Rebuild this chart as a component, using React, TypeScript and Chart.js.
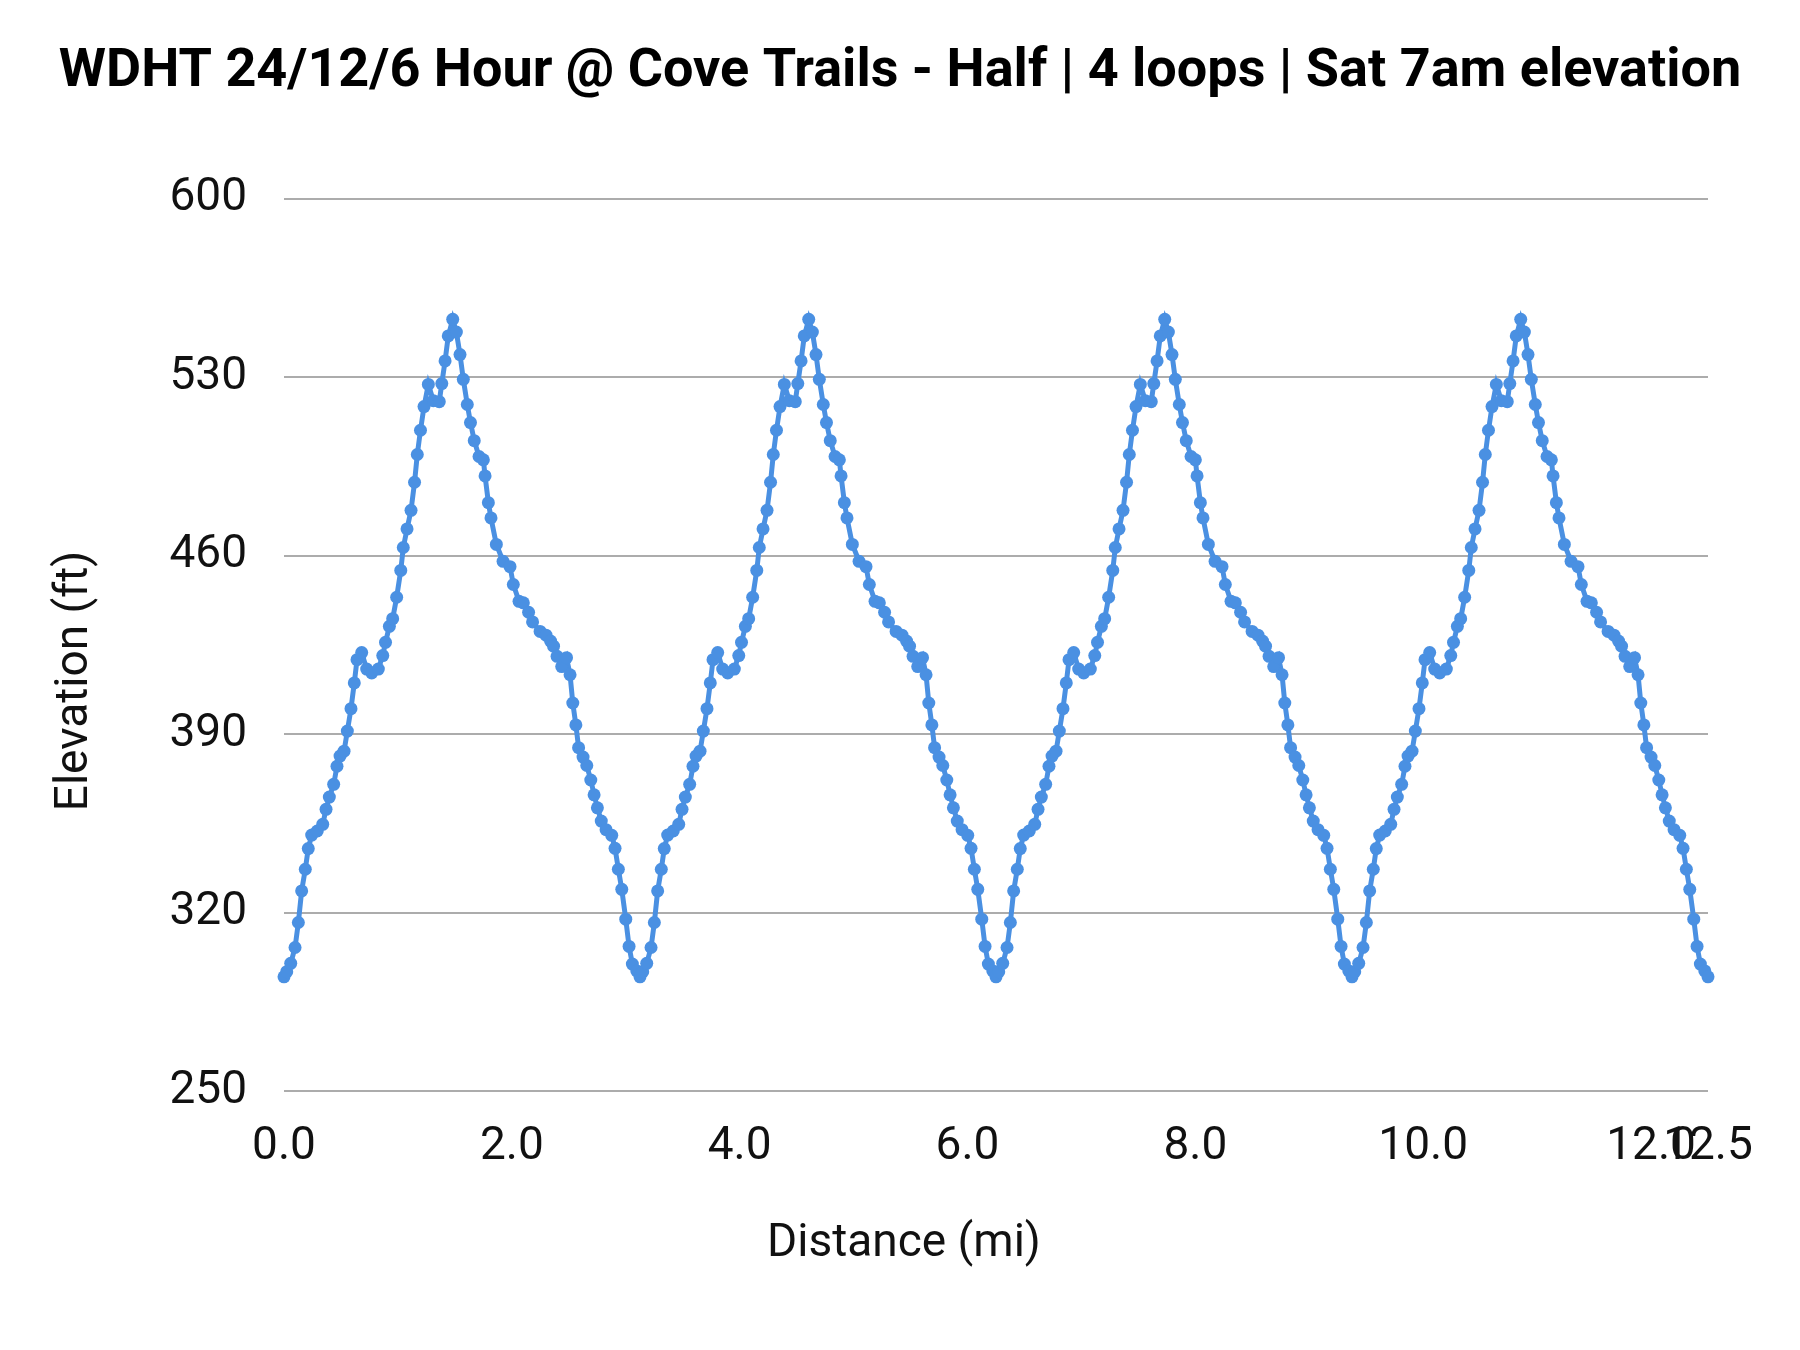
import { useEffect, useRef } from 'react';
import { Chart, registerables, Plugin } from 'chart.js';

Chart.register(...registerables);

// One loop of the course (mi from loop start, ft). The race repeats it 4 times.
const loopDistance = [
  0.0, 0.024, 0.059, 0.097, 0.126, 0.155, 0.187, 0.213, 0.243, 0.292,
  0.34, 0.369, 0.398, 0.436, 0.465, 0.492, 0.527, 0.556, 0.588, 0.617,
  0.641, 0.682, 0.726, 0.77, 0.828, 0.867, 0.891, 0.925, 0.954, 0.989,
  1.025, 1.047, 1.08, 1.115, 1.146, 1.17, 1.198, 1.229, 1.267, 1.311,
  1.363, 1.385, 1.414, 1.442, 1.481, 1.513, 1.545, 1.574, 1.609, 1.637,
  1.67, 1.712, 1.75, 1.765, 1.794, 1.817, 1.864, 1.923, 1.984, 2.013,
  2.063, 2.101, 2.147, 2.182, 2.248, 2.3, 2.34, 2.366, 2.397, 2.438,
  2.48, 2.511, 2.535, 2.562, 2.586, 2.625, 2.658, 2.693, 2.722, 2.751,
  2.785, 2.827, 2.877, 2.906, 2.935, 2.965, 3.0, 3.029, 3.058, 3.097,
];

const loopElevation = [
  294.8, 296.8, 300.1, 306.3, 316.1, 328.5, 337.0, 345.1, 350.4, 352.0,
  354.6, 360.5, 365.3, 370.3, 377.4, 381.4, 383.3, 391.2, 400.0, 410.1,
  419.2, 422.0, 415.5, 414.0, 415.5, 420.8, 426.0, 432.3, 435.3, 443.7,
  454.2, 463.2, 470.5, 477.8, 488.8, 499.7, 509.2, 518.5, 527.2, 520.8,
  520.4, 527.5, 536.4, 546.2, 552.7, 547.7, 538.9, 529.2, 519.3, 512.2,
  505.1, 498.9, 497.6, 491.3, 480.8, 474.8, 464.4, 457.8, 455.7, 448.7,
  442.1, 441.5, 437.8, 434.0, 430.3, 428.8, 426.5, 424.5, 420.5, 416.5,
  420.0, 413.3, 402.2, 393.6, 384.7, 381.0, 377.7, 372.0, 366.2, 361.1,
  355.9, 352.5, 350.3, 345.2, 337.0, 329.1, 317.4, 306.7, 299.8, 297.1,
];

const loopLength = 3.125;
const loopCount = 4;
const finishDistance = 12.5;
const finishElevation = 294.8;

const xTicks = [0, 2, 4, 6, 8, 10, 12, 12.5];
const yTicks = [250, 320, 390, 460, 530, 600];

const TITLE = 'WDHT 24/12/6 Hour @ Cove Trails - Half | 4 loops | Sat 7am elevation';
const X_TITLE = 'Distance (mi)';
const Y_TITLE = 'Elevation (ft)';
const FONT = 'Roboto';
const TEXT = '#111';

// axis titles are centred on the whole canvas in the original, not on the plot
const axisTitles: Plugin<'line'> = {
  id: 'axisTitles',
  afterDraw(chart) {
    const { ctx, width, height } = chart;
    ctx.save();
    ctx.fillStyle = TEXT;
    ctx.font = `46px ${FONT}`;
    ctx.textAlign = 'center';
    ctx.textBaseline = 'middle';
    ctx.fillText(X_TITLE, width / 2 + 4, 1244);
    ctx.translate(75, height / 2 + 6);
    ctx.rotate(-Math.PI / 2);
    ctx.fillText(Y_TITLE, 0, 0);
    ctx.restore();
  },
};

export default function App() {
  const chartRef = useRef<HTMLCanvasElement>(null);
  const chartInstance = useRef<Chart | null>(null);

  useEffect(() => {
    if (!chartRef.current) return;
    document.body.style.margin = '0';

    if (chartInstance.current) {
      chartInstance.current.destroy();
    }

    const points: { x: number; y: number }[] = [];
    for (let k = 0; k < loopCount; k++) {
      loopDistance.forEach((d, i) => {
        points.push({ x: k * loopLength + d, y: loopElevation[i] });
      });
    }
    points.push({ x: finishDistance, y: finishElevation });

    const ctx = chartRef.current.getContext('2d');
    if (!ctx) return;

    chartInstance.current = new Chart(ctx, {
      type: 'line',
      data: {
        datasets: [
          {
            label: 'Elevation',
            data: points,
            borderColor: '#4a90e2',
            backgroundColor: '#4a90e2',
            borderWidth: 5,
            pointRadius: 6.5,
            pointBorderWidth: 0,
            pointBackgroundColor: '#4a90e2',
            tension: 0,
            fill: false,
            clip: false,
          },
        ],
      },
      plugins: [axisTitles],
      options: {
        responsive: false,
        devicePixelRatio: 1,
        animation: false,
        layout: { padding: 0 },
        plugins: {
          legend: { display: false },
          tooltip: { enabled: false },
          title: {
            display: true,
            text: TITLE,
            color: '#000',
            font: { family: FONT, size: 54, weight: 'bold', lineHeight: 1.2 },
            padding: { top: 40, bottom: 94 },
          },
        },
        scales: {
          x: {
            type: 'linear',
            min: 0,
            max: 12.5,
            grid: { display: false, drawTicks: false },
            border: { display: false },
            afterBuildTicks: (scale) => {
              scale.ticks = xTicks.map((v) => ({ value: v }));
            },
            afterFit: (scale) => {
              scale.height = 259;
            },
            ticks: {
              autoSkip: false,
              maxRotation: 0,
              padding: 29,
              color: TEXT,
              font: { family: FONT, size: 46 },
              callback: (value) => Number(value).toFixed(1),
            },
          },
          y: {
            type: 'linear',
            position: 'left',
            min: 250,
            max: 600,
            grid: { color: '#acacac', lineWidth: 2, drawTicks: false },
            border: { display: false },
            afterBuildTicks: (scale) => {
              scale.ticks = yTicks.map((v) => ({ value: v }));
            },
            afterFit: (scale) => {
              scale.width = 284;
            },
            ticks: {
              padding: 37,
              color: TEXT,
              font: { family: FONT, size: 46 },
            },
          },
          yRight: {
            type: 'linear',
            position: 'right',
            display: true,
            grid: { display: false },
            border: { display: false },
            ticks: { display: false },
            afterFit: (scale) => {
              scale.width = 92;
            },
          },
        },
      },
    });

    return () => {
      if (chartInstance.current) {
        chartInstance.current.destroy();
        chartInstance.current = null;
      }
    };
  }, []);

  return (
    <div style={{ width: 1800, height: 1350, background: '#fff' }}>
      <canvas ref={chartRef} width={1800} height={1350} style={{ display: 'block' }} />
    </div>
  );
}
